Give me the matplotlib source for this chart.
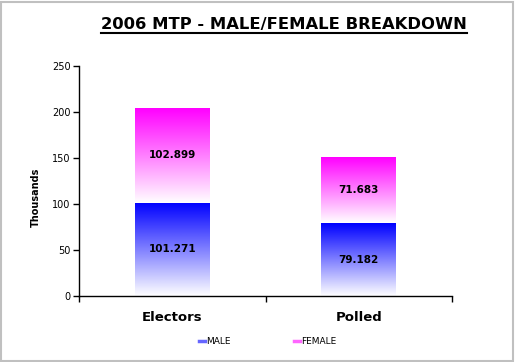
import matplotlib
matplotlib.use("Agg")
import matplotlib.pyplot as plt
import numpy as np
from matplotlib.colors import LinearSegmentedColormap
from matplotlib.patches import Rectangle
from matplotlib.lines import Line2D

categories = ["Electors", "Polled"]
male = [101.271, 79.182]
female = [102.899, 71.683]
series_names = ["MALE", "FEMALE"]
series_colors = ["#0000FF", "#FF00FF"]
yticks = [0, 50, 100, 150, 200, 250]

W, H = 515, 362
fig = plt.figure(figsize=(W / 100, H / 100), dpi=100)
plt.rcParams['font.family'] = ['DejaVu Sans']

# axes placement in pixels
left, right, top, bottom = 79, 452, 66, 296
ax = fig.add_axes([left / W, 1 - bottom / H, (right - left) / W, (bottom - top) / H])

x = np.arange(len(categories))
width = 0.4
bars_m = ax.bar(x, male, width, facecolor="none", edgecolor="none")
bars_f = ax.bar(x, female, width, bottom=male, facecolor="none", edgecolor="none")

grad = np.linspace(0, 1, 256).reshape(-1, 1)
for bars, col, vals in ((bars_m, series_colors[0], male), (bars_f, series_colors[1], female)):
    cmap = LinearSegmentedColormap.from_list("g", ["#FFFFFF", col])
    for p, v in zip(bars, vals):
        x0, y0 = p.get_x(), p.get_y()
        w, h = p.get_width(), p.get_height()
        im = ax.imshow(grad, extent=(x0, x0 + w, y0, y0 + h), origin="lower",
                       cmap=cmap, aspect="auto", interpolation="bilinear", zorder=2)
        im.set_clip_path(p)
        ax.text(x0 + w / 2, y0 + h / 2, f"{v:.3f}", ha="center", va="center",
                fontsize=7.5, fontweight="bold", color="black", zorder=3)

ax.set_xlim(-0.5, len(categories) - 0.5)
ax.set_ylim(0, 250)
ax.set_yticks(yticks)
ax.tick_params(axis="y", labelsize=7, length=4, width=1, pad=2, colors="black")
ax.set_xticks(x)
ax.set_xticklabels(categories, fontsize=9.5, fontweight="bold")
ax.tick_params(axis="x", which="major", length=0, pad=11)
ax.set_xticks(np.arange(-0.5, len(categories)), minor=True)
ax.tick_params(axis="x", which="minor", length=4, width=1, direction="out")
for s in ("top", "right"):
    ax.spines[s].set_visible(False)
for s in ("left", "bottom"):
    ax.spines[s].set_linewidth(1)

fig.text(36 / W, 1 - 197 / H, "Thousands", rotation=90, ha="center", va="center",
         fontsize=7, fontweight="bold")

# title with underline
t = fig.text(284 / W, 1 - 24 / H, "2006 MTP - MALE/FEMALE BREAKDOWN", ha="center",
             va="center", fontsize=11.8, fontweight="bold")
fig.canvas.draw()
bb = t.get_window_extent(renderer=fig.canvas.get_renderer())
fig.add_artist(Line2D([bb.x0 / W, bb.x1 / W], [(H - 33) / H, (H - 33) / H],
                      color="black", lw=1.5, transform=fig.transFigure))

# legend
handles = [Line2D([0], [0], color=c, lw=2.5, alpha=0.6) for c in series_colors]
fig.legend(handles, series_names, loc="center", bbox_to_anchor=(268 / W, 1 - 342 / H),
           ncol=2, frameon=False, fontsize=6.5, handlelength=0.6, handletextpad=0.2,
           columnspacing=7)

# figure border
fig.add_artist(Rectangle((1 / W, 1 / H), (W - 3) / W, (H - 3) / H, transform=fig.transFigure,
                         fill=False, edgecolor="#C0C0C0", lw=1.5))

fig.savefig("out.png", dpi=100)
